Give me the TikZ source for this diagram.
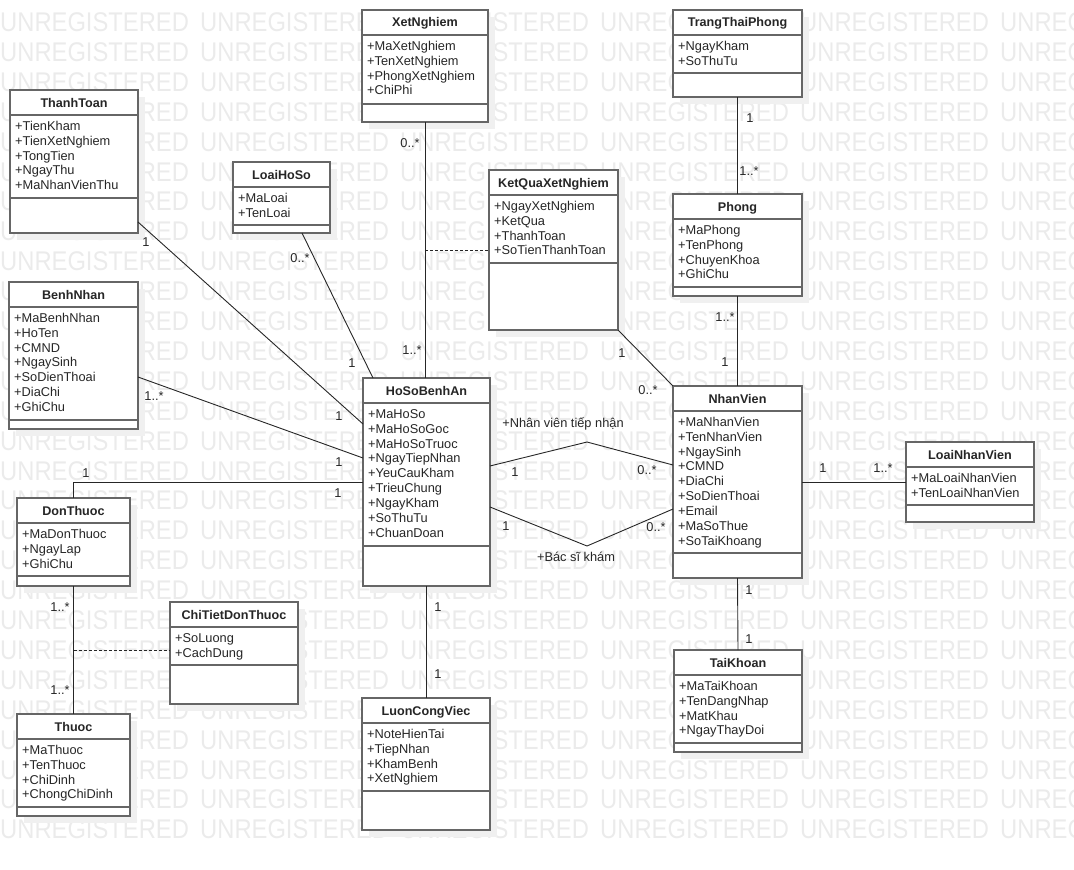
\documentclass[tikz,border=0pt]{standalone}
\usepackage{fontspec}
\setmainfont{Liberation Sans}
\newfontfamily\wmfont[FakeStretch=0.88]{Liberation Sans}
\usetikzlibrary{positioning, calc, shadows}

% class box: name, north west corner, width, attribute height, operation height, title, attributes
\newcommand{\umlclass}[7]{%
  \node[classbox, minimum width=#3pt, minimum height=25pt+#4pt+#5pt] (#1) at (#2) {};
  \node[classtitle] (#1_title) at ([yshift=-17pt]#1.north) {#6};
  \node[classattr] (#1_attr) at ([xshift=5pt, yshift=-30pt]#1.north west) {\rule{0pt}{10pt}#7};
  \draw[classline] ([yshift=-25pt]#1.north west) -- ([yshift=-25pt]#1.north east);
  \draw[classline] ([yshift=-25pt-#4pt]#1.north west) -- ([yshift=-25pt-#4pt]#1.north east);
}

\begin{document}
\begin{tikzpicture}[x=1pt, y=-1pt,
    classbox/.style={draw=black!60, line width=1.2pt, fill=white, anchor=north west, inner sep=0pt, outer sep=0pt, drop shadow={shadow xshift=7pt, shadow yshift=-7pt, fill=black!6, opacity=1}},
    classline/.style={draw=black!60, line width=1.2pt},
    classtitle/.style={font=\fontsize{12.6}{15}\selectfont\bfseries, text=black!85, anchor=base, inner sep=0pt},
    classattr/.style={font=\fontsize{12.8}{14.9}\selectfont, text=black!85, align=left, anchor=north west, inner sep=0pt},
    assoc/.style={draw=black!85, line width=0.9pt},
    link/.style={assoc, dash pattern=on 3pt off 2pt},
    mult/.style={font=\fontsize{12.8}{15}\selectfont, text=black!85, anchor=base, inner sep=0pt},
    watermark/.style={font=\wmfont\fontsize{27}{27}\selectfont, text=black!8, anchor=base west, inner sep=0pt}]

    \useasboundingbox (0,0) rectangle (1074,870);

    %Watermark
    \foreach \r in {0,...,27}{
        \foreach \c in {0,...,5}{
            \node[watermark] (wm_\r_\c) at (200*\c, 31.5+29.9*\r) {UNREGISTERED};
        }
    }

    %Classes
    \umlclass{thanh_toan}{10,90}{128}{83}{35}{ThanhToan}{+TienKham\\+TienXetNghiem\\+TongTien\\+NgayThu\\+MaNhanVienThu}
    \umlclass{loai_ho_so}{233,162}{97}{38}{8}{LoaiHoSo}{+MaLoai\\+TenLoai}
    \umlclass{xet_nghiem}{362,10}{126}{69}{18}{XetNghiem}{+MaXetNghiem\\+TenXetNghiem\\+PhongXetNghiem\\+ChiPhi}
    \umlclass{ket_qua}{489,170}{129}{68}{67}{KetQuaXetNghiem}{+NgayXetNghiem\\+KetQua\\+ThanhToan\\+SoTienThanhToan}
    \umlclass{trang_thai_phong}{673,10}{129}{38}{24}{TrangThaiPhong}{+NgayKham\\+SoThuTu}
    \umlclass{phong}{673,194}{129}{68}{9}{Phong}{+MaPhong\\+TenPhong\\+ChuyenKhoa\\+GhiChu}
    \umlclass{nhan_vien}{673,386}{129}{142}{25}{NhanVien}{+MaNhanVien\\+TenNhanVien\\+NgaySinh\\+CMND\\+DiaChi\\+SoDienThoai\\+Email\\+MaSoThue\\+SoTaiKhoang}
    \umlclass{loai_nhan_vien}{906,442}{128}{38}{17}{LoaiNhanVien}{+MaLoaiNhanVien\\+TenLoaiNhanVien}
    \umlclass{tai_khoan}{674,650}{128}{68}{9}{TaiKhoan}{+MaTaiKhoan\\+TenDangNhap\\+MatKhau\\+NgayThayDoi}
    \umlclass{luon_cong_viec}{362,698}{128}{68}{39}{LuonCongViec}{+NoteHienTai\\+TiepNhan\\+KhamBenh\\+XetNghiem}
    \umlclass{ho_so}{363,378}{127}{143}{40}{HoSoBenhAn}{+MaHoSo\\+MaHoSoGoc\\+MaHoSoTruoc\\+NgayTiepNhan\\+YeuCauKham\\+TrieuChung\\+NgayKham\\+SoThuTu\\+ChuanDoan}
    \umlclass{benh_nhan}{9,282}{129}{113}{9}{BenhNhan}{+MaBenhNhan\\+HoTen\\+CMND\\+NgaySinh\\+SoDienThoai\\+DiaChi\\+GhiChu}
    \umlclass{don_thuoc}{17,498}{113}{53}{10}{DonThuoc}{+MaDonThuoc\\+NgayLap\\+GhiChu}
    \umlclass{chi_tiet}{170,602}{128}{38}{39}{ChiTietDonThuoc}{+SoLuong\\+CachDung}
    \umlclass{thuoc}{17,714}{113}{68}{9}{Thuoc}{+MaThuoc\\+TenThuoc\\+ChiDinh\\+ChongChiDinh}

    %Lines
    \draw[assoc] ([yshift=11pt]thanh_toan.south east) -- ([yshift=-46pt]ho_so.north west);
    \draw[assoc] ([xshift=-28pt]loai_ho_so.south east) -- ([xshift=10pt]ho_so.north west);
    \draw[assoc] ([yshift=52pt]benh_nhan.south east) -- ([yshift=-80pt]ho_so.north west);
    \draw[assoc] ([yshift=-104pt]ho_so.north west) -| (don_thuoc.north);
    \draw[assoc] (don_thuoc.south) -- (thuoc.north);
    \draw[assoc] (xet_nghiem.south) -- (xet_nghiem.south |- ho_so.north);
    \draw[assoc] (ket_qua.south east) -- (nhan_vien.north west);
    \draw[assoc] (trang_thai_phong.south) -- (phong.north);
    \draw[assoc] (phong.south) -- (nhan_vien.north);
    \draw[assoc] (nhan_vien.east) -- (loai_nhan_vien.west);
    \draw[assoc] (nhan_vien.south) -- (tai_khoan.north);
    \draw[assoc] (ho_so.south) -- (ho_so.south |- luon_cong_viec.north);
    \coordinate (recv_bend) at (587,442);
    \coordinate (exam_bend) at (587,546);
    \draw[assoc] ([yshift=-88pt]ho_so.north east) -- (recv_bend) -- ([yshift=-79pt]nhan_vien.north west);
    \draw[assoc] ([yshift=-129pt]ho_so.north east) -- (exam_bend) -- ([yshift=-123pt]nhan_vien.north west);
    \coordinate (xn_mid) at ($(xet_nghiem.south)!0.5!(xet_nghiem.south |- ho_so.north)$);
    \draw[link] (xn_mid) -- (xn_mid -| ket_qua.west);
    \coordinate (dt_mid) at ($(don_thuoc.south)!0.5!(thuoc.north)$);
    \draw[link] (dt_mid) -- (dt_mid -| chi_tiet.west);

    %Labels
    \foreach \n/\x/\y/\t in {m_tt/146/246.5/1, m_lhs/300/262.5/0..*, m_hs_lhs/352/367.5/1,
        m_bn/154/400.5/1..*, m_hs_tt/339/420.5/1, m_hs_bn/339/466.5/1,
        m_dt/86/477.5/1, m_hs_dt/338/497.5/1, m_dt_th/60/611.5/1..*, m_th/60/694.5/1..*,
        m_xn/410/147.5/0..*, m_hs_xn/412/354.5/1..*, m_kq/622/357.5/1, m_nv_kq/648/394.5/0..*,
        m_hs_recv/515/476.5/1, m_nv_recv/647/474.5/0..*, m_hs_exam/506/530.5/1, m_nv_exam/656/531.5/0..*,
        m_ttp/750/122.5/1, m_p_ttp/749/175.5/1..*, m_p/725/321.5/1..*, m_nv_p/725/366.5/1,
        m_nv_lnv/823/472.5/1, m_lnv/883/472.5/1..*, m_nv_tk/749/594.5/1, m_tk/749/643.5/1,
        m_hs_lcv/438/611.5/1, m_lcv/438/678.5/1}
        \node[mult] (\n) at (\x,\y) {\t};
    \node[mult] (recv_role) at (563,427.5) {+Nhân viên tiếp nhận};
    \node[mult] (exam_role) at (576,561.5) {+Bác sĩ khám};

\end{tikzpicture}
\end{document}
